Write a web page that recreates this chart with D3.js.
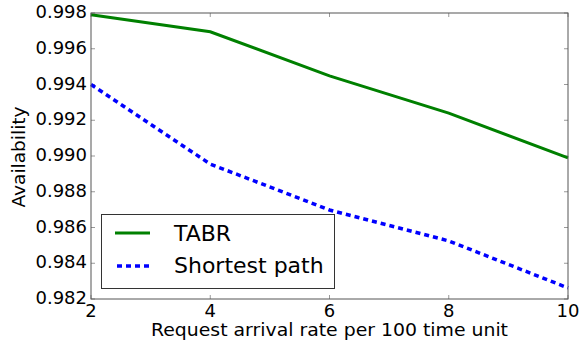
<!DOCTYPE html>
<html>
<head>
<meta charset="utf-8">
<script src="https://cdn.jsdelivr.net/npm/d3@7"></script>
<style>
  body { margin: 0; background: #fff; }
  text { font-family: "DejaVu Sans", sans-serif; fill: #000; }
</style>
</head>
<body>
<svg id="chart" width="579" height="345"></svg>
<script>
// data
let rates = [2, 4, 6, 8, 10];
let tabr = [0.9979, 0.99695, 0.99448, 0.9924, 0.9899];
let shortest = [0.9940, 0.98955, 0.98698, 0.98525, 0.98262];
let xTicks = [2, 4, 6, 8, 10];
let yTicks = [0.982, 0.984, 0.986, 0.988, 0.990, 0.992, 0.994, 0.996, 0.998];
let seriesNames = ["TABR", "Shortest path"];

let svg = d3.select("#chart");
let plotLeft = 91, plotRight = 568, plotTop = 13, plotBottom = 299;

let x = d3.scaleLinear().domain([2, 10]).range([plotLeft, plotRight]);
let y = d3.scaleLinear().domain([0.982, 0.998]).range([plotBottom, plotTop]);

// ticks on all four sides, pointing inward
let g = svg.append("g");
xTicks.forEach(function (t) {
    g.append("line").attr("x1", x(t)).attr("x2", x(t)).attr("y1", plotBottom).attr("y2", plotBottom - 4)
        .attr("stroke", "#999").attr("stroke-width", 1);
    g.append("line").attr("x1", x(t)).attr("x2", x(t)).attr("y1", plotTop).attr("y2", plotTop + 4)
        .attr("stroke", "#999").attr("stroke-width", 1);
    g.append("text").attr("x", x(t)).attr("y", plotBottom + 18)
        .attr("text-anchor", "middle").style("font-size", "18px").text(t);
});
yTicks.forEach(function (t) {
    g.append("line").attr("x1", plotLeft).attr("x2", plotLeft + 4).attr("y1", y(t)).attr("y2", y(t))
        .attr("stroke", "#999").attr("stroke-width", 1);
    g.append("line").attr("x1", plotRight).attr("x2", plotRight - 4).attr("y1", y(t)).attr("y2", y(t))
        .attr("stroke", "#999").attr("stroke-width", 1);
    g.append("text").attr("x", plotLeft - 4).attr("y", y(t) + 5)
        .attr("text-anchor", "end").style("font-size", "18px").text(d3.format(".3f")(t));
});

let line = d3.line()
    .x(function (d, i) { return x(rates[i]); })
    .y(function (d) { return y(d); });

svg.append("path").datum(tabr)
    .attr("d", line).attr("fill", "none")
    .attr("stroke", "#008000").attr("stroke-width", 3);

svg.append("path").datum(shortest)
    .attr("d", line).attr("fill", "none")
    .attr("stroke", "#0000ff").attr("stroke-width", 3.5)
    .attr("stroke-dasharray", "5,4");

// frame
svg.append("rect").attr("x", plotLeft).attr("y", plotTop)
    .attr("width", plotRight - plotLeft).attr("height", plotBottom - plotTop)
    .attr("fill", "none").attr("stroke", "#555").attr("stroke-width", 1);

// axis labels
svg.append("text").attr("x", (plotLeft + plotRight) / 2).attr("y", 336)
    .attr("text-anchor", "middle").style("font-size", "17px")
    .attr("textLength", 357).attr("lengthAdjust", "spacingAndGlyphs")
    .text("Request arrival rate per 100 time unit");
svg.append("text").attr("transform", "translate(25,157) rotate(-90)")
    .attr("text-anchor", "middle").style("font-size", "17px")
    .attr("textLength", 101).attr("lengthAdjust", "spacingAndGlyphs")
    .text("Availability");

// legend
let leg = svg.append("g");
leg.append("rect").attr("x", 101.5).attr("y", 214.5).attr("width", 233).attr("height", 74)
    .attr("fill", "#fff").attr("stroke", "#333").attr("stroke-width", 1);
leg.append("line").attr("x1", 115).attr("x2", 150).attr("y1", 233).attr("y2", 233)
    .attr("stroke", "#008000").attr("stroke-width", 3);
leg.append("line").attr("x1", 117).attr("x2", 150).attr("y1", 266).attr("y2", 266)
    .attr("stroke", "#0000ff").attr("stroke-width", 3.5).attr("stroke-dasharray", "5,4");
leg.append("text").attr("x", 174).attr("y", 241).style("font-size", "22px").text(seriesNames[0]);
leg.append("text").attr("x", 174).attr("y", 273).style("font-size", "22px").text(seriesNames[1]);
</script>
</body>
</html>
